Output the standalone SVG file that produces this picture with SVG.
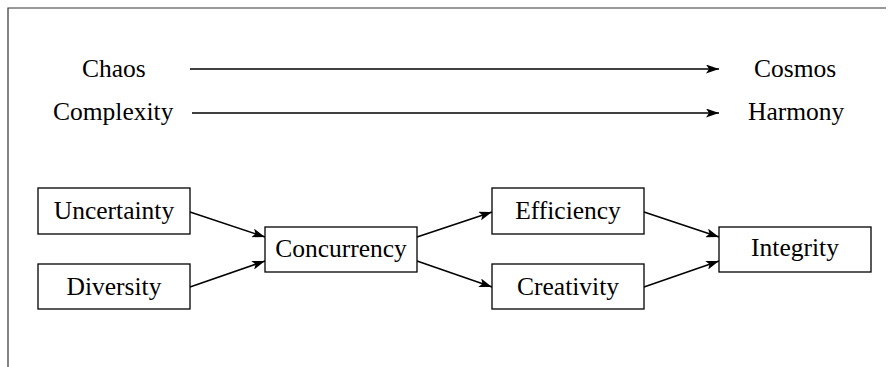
<svg xmlns="http://www.w3.org/2000/svg" width="890" height="367" viewBox="0 0 890 367">
<style>
text{font-family:"Liberation Serif","Times New Roman",serif;font-size:25.5px;fill:#000}
.box{fill:#fff;stroke:#000;stroke-width:1.3}
.c{fill:none;stroke:#000;stroke-width:1.5;marker-end:url(#ah)}
.frame{fill:none;stroke:#333;stroke-width:1.2}
</style>
<defs>
<marker id="ah" viewBox="0 0 13 9" refX="13" refY="4.5" markerWidth="13" markerHeight="9" markerUnits="userSpaceOnUse" orient="auto">
<path d="M0,0 L13,4.5 L0,9 L3,4.5 Z" fill="#000"/>
</marker>
</defs>
<g id="frame"><path class="frame" d="M8,367 V8 H886"/></g>
<g id="labels">
<text x="82" y="77">Chaos</text>
<text x="754" y="77">Cosmos</text>
<text x="53" y="120">Complexity</text>
<text x="748" y="120">Harmony</text>
</g>
<g id="connectors">
<line class="c" x1="190" y1="69" x2="719" y2="69"/>
<line class="c" x1="192" y1="113" x2="719" y2="113"/>
<line class="c" x1="190" y1="212" x2="265" y2="237"/>
<line class="c" x1="190" y1="287" x2="265" y2="261"/>
<line class="c" x1="417" y1="237" x2="492" y2="212"/>
<line class="c" x1="417" y1="261" x2="492" y2="287"/>
<line class="c" x1="644" y1="212" x2="719" y2="237"/>
<line class="c" x1="644" y1="287" x2="719" y2="261"/>
</g>
<g id="uncertainty"><rect class="box" x="38" y="188" width="152" height="46"/><text x="114" y="219" text-anchor="middle">Uncertainty</text></g>
<g id="diversity"><rect class="box" x="38" y="264" width="152" height="45"/><text x="114" y="295" text-anchor="middle">Diversity</text></g>
<g id="concurrency"><rect class="box" x="265" y="227" width="152" height="45"/><text x="341" y="257" text-anchor="middle">Concurrency</text></g>
<g id="efficiency"><rect class="box" x="492" y="188" width="152" height="46"/><text x="568" y="219" text-anchor="middle">Efficiency</text></g>
<g id="creativity"><rect class="box" x="492" y="264" width="152" height="45"/><text x="568" y="295" text-anchor="middle">Creativity</text></g>
<g id="integrity"><rect class="box" x="719" y="227" width="152" height="45"/><text x="795" y="256" text-anchor="middle">Integrity</text></g>
</svg>
